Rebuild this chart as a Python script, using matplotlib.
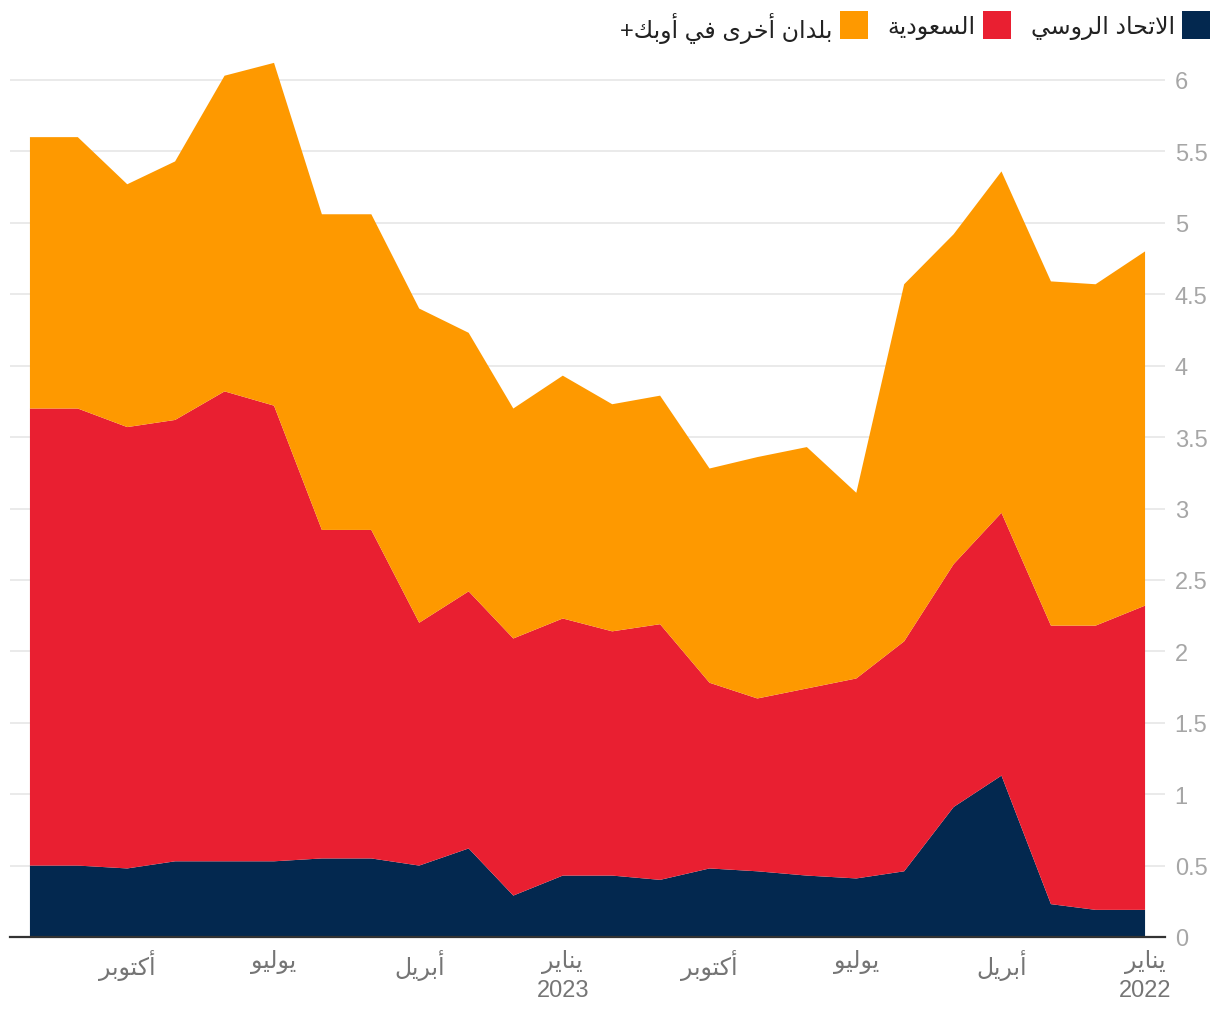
import numpy as np
import matplotlib
matplotlib.use("Agg")
import matplotlib.pyplot as plt
from matplotlib.patches import Rectangle
import datetime as dt

# ---------------- data ----------------
months = ["2022-01", "2022-02", "2022-03", "2022-04", "2022-05", "2022-06",
          "2022-07", "2022-08", "2022-09", "2022-10", "2022-11", "2022-12",
          "2023-01", "2023-02", "2023-03", "2023-04", "2023-05", "2023-06",
          "2023-07", "2023-08", "2023-09", "2023-10", "2023-11", "2023-12"]
russia = [0.19, 0.19, 0.23, 1.13, 0.91, 0.46, 0.41, 0.43, 0.46, 0.48, 0.40, 0.43,
          0.43, 0.29, 0.62, 0.50, 0.55, 0.55, 0.53, 0.53, 0.53, 0.48, 0.50, 0.50]
saudi = [2.13, 1.99, 1.95, 1.84, 1.70, 1.61, 1.40, 1.31, 1.21, 1.30, 1.79, 1.71,
         1.80, 1.80, 1.80, 1.70, 2.30, 2.30, 3.19, 3.29, 3.09, 3.09, 3.20, 3.20]
others = [2.48, 2.39, 2.41, 2.39, 2.31, 2.50, 1.30, 1.69, 1.69, 1.50, 1.60, 1.59,
          1.70, 1.61, 1.81, 2.20, 2.21, 2.21, 2.40, 2.21, 1.81, 1.70, 1.90, 1.90]
series_names = ["الاتحاد الروسي", "السعودية", "بلدان أخرى في أوبك+"]
series_colors = ["#03284f", "#e91f31", "#fe9900"]
tick_dates = ["2022-01", "2022-04", "2022-07", "2022-10",
              "2023-01", "2023-04", "2023-07", "2023-10"]
tick_months = ["يناير", "أبريل", "يوليو", "أكتوبر",
               "يناير", "أبريل", "يوليو", "أكتوبر"]
tick_years = ["2022", "", "", "", "2023", "", "", ""]
y_ticks = [0, 0.5, 1, 1.5, 2, 2.5, 3, 3.5, 4, 4.5, 5, 5.5, 6]

# ---------------- minimal Arabic shaping ----------------
FORMS = {
    'ا': ('\uFE8D', '\uFE8E', None, None),
    'أ': ('\uFE83', '\uFE84', None, None),
    'ب': ('\uFE8F', '\uFE90', '\uFE91', '\uFE92'),
    'ة': ('\uFE93', '\uFE94', None, None),
    'ت': ('\uFE95', '\uFE96', '\uFE97', '\uFE98'),
    'ح': ('\uFEA1', '\uFEA2', '\uFEA3', '\uFEA4'),
    'خ': ('\uFEA5', '\uFEA6', '\uFEA7', '\uFEA8'),
    'د': ('\uFEA9', '\uFEAA', None, None),
    'ر': ('\uFEAD', '\uFEAE', None, None),
    'س': ('\uFEB1', '\uFEB2', '\uFEB3', '\uFEB4'),
    'ع': ('\uFEC9', '\uFECA', '\uFECB', '\uFECC'),
    'ف': ('\uFED1', '\uFED2', '\uFED3', '\uFED4'),
    'ك': ('\uFED9', '\uFEDA', '\uFEDB', '\uFEDC'),
    'ل': ('\uFEDD', '\uFEDE', '\uFEDF', '\uFEE0'),
    'ن': ('\uFEE5', '\uFEE6', '\uFEE7', '\uFEE8'),
    'و': ('\uFEED', '\uFEEE', None, None),
    'ى': ('\uFEEF', '\uFEF0', '\uFBE8', '\uFBE9'),
    'ي': ('\uFEF1', '\uFEF2', '\uFEF3', '\uFEF4'),
}
LAMALEF = {'ا': ('\uFEFB', '\uFEFC'), 'أ': ('\uFEF7', '\uFEF8')}


def shape(s):
    toks = []
    i = 0
    while i < len(s):
        if s[i] == 'ل' and i + 1 < len(s) and s[i + 1] in LAMALEF:
            toks.append(('LA', s[i + 1]))
            i += 2
        else:
            toks.append((s[i], None))
            i += 1

    def joins_next(t):
        if t[0] == 'LA':
            return False
        f = FORMS.get(t[0])
        return f is not None and f[2] is not None

    def joins_prev(t):
        return t[0] == 'LA' or t[0] in FORMS

    out = []
    for k, t in enumerate(toks):
        jp = k > 0 and joins_next(toks[k - 1]) and joins_prev(t)
        jn = k + 1 < len(toks) and joins_next(t) and joins_prev(toks[k + 1])
        if t[0] == 'LA':
            iso, fin = LAMALEF[t[1]]
            out.append(fin if jp else iso)
        elif t[0] in FORMS:
            iso, fin, ini, med = FORMS[t[0]]
            if jp and jn:
                out.append(med)
            elif jp:
                out.append(fin)
            elif jn:
                out.append(ini)
            else:
                out.append(iso)
        else:
            out.append(t[0])
    return ''.join(reversed(out))


# ---------------- plot ----------------
FAM = ['Liberation Sans', 'DejaVu Sans']
plt.rcParams['font.family'] = FAM

W, H = 1220, 1020
fig = plt.figure(figsize=(W / 100, H / 100), dpi=100)
ax_l, ax_r, ax_b = 10, 1165, 938
y_top_val = 6.22
px_per_unit = (938 - 81) / 6.0
ax_t = ax_b - y_top_val * px_per_unit
ax = fig.add_axes([ax_l / W, (H - ax_b) / H, (ax_r - ax_l) / W, (ax_b - ax_t) / H])

x = [dt.datetime(int(m[:4]), int(m[5:]), 1) for m in months]
ax.stackplot(x, russia, saudi, others, colors=series_colors, linewidth=0)

pad = dt.timedelta(days=12.5)
ax.set_xlim(x[-1] + pad, x[0] - pad)
ax.set_ylim(0, y_top_val)

ax.yaxis.tick_right()
ax.set_yticks(y_ticks)
ax.set_yticklabels([f"{v:g}" for v in y_ticks])
ax.tick_params(axis='y', length=0, pad=7, labelsize=17, labelcolor='#a6a6a6')
ax.grid(axis='y', color='#e6e6e6', linewidth=1.2)
ax.set_axisbelow(True)

tpos = [dt.datetime(int(t[:4]), int(t[5:]), 1) for t in tick_dates]
tlabels = [shape(m) + ("\n" + y if y else "") for m, y in zip(tick_months, tick_years)]
ax.set_xticks(tpos)
ax.set_xticklabels(tlabels, linespacing=1.3)
ax.tick_params(axis='x', length=0, pad=9, labelsize=17, labelcolor='#757575')

for s in ['top', 'left', 'right']:
    ax.spines[s].set_visible(False)
ax.spines['bottom'].set_color('#333333')
ax.spines['bottom'].set_linewidth(1.6)
ax.spines['bottom'].set_zorder(5)

# ---------------- legend (right-to-left) ----------------
sq = 28
legend_right = 1210
gap_text = 7
gap_item = 20
cx = legend_right
renderer = fig.canvas.get_renderer()
for name, col in zip(series_names, series_colors):
    rect = Rectangle(((cx - sq) / W, (H - 40) / H), sq / W, sq / H,
                     transform=fig.transFigure, facecolor=col, edgecolor='none')
    fig.add_artist(rect)
    t = fig.text((cx - sq - gap_text) / W, (H - 28) / H, shape(name),
                 ha='right', va='center', fontsize=17, color='#222222')
    bb = t.get_window_extent(renderer=renderer)
    cx = cx - sq - gap_text - bb.width - gap_item

fig.savefig("out.png", dpi=100)
